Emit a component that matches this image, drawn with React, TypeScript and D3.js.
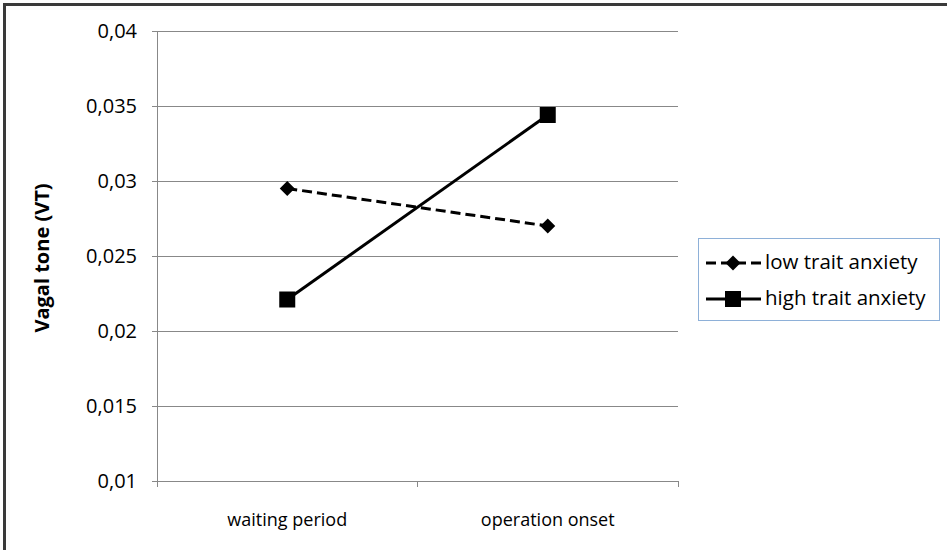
import React from "react";
import * as d3 from "d3";

const categories = ["waiting period", "operation onset"];
const lowTrait = [0.0295, 0.027];
const highTrait = [0.0221, 0.0344];
const yTicks = [0.01, 0.015, 0.02, 0.025, 0.03, 0.035, 0.04];
const seriesNames = ["low trait anxiety", "high trait anxiety"];

const W = 947, H = 550;
const left = 157, right = 678, top = 31, bottom = 481;
const font = "'Open Sans', sans-serif";

export default function App() {
  const x = d3.scaleBand().domain(categories).range([left, right]);
  const y = d3.scaleLinear().domain([0.01, 0.04]).range([bottom, top]);
  const cx = (c: string) => (x(c) as number) + x.bandwidth() / 2;
  const line = d3.line<number>().x((_, i) => cx(categories[i])).y((v) => y(v));
  const fmt = (v: number) => String(+v.toFixed(3)).replace(".", ",");
  const diamond = "M0,-7.5L7.5,0L0,7.5L-7.5,0Z";
  const legY = [263, 299];

  return (
    <svg width={W} height={H} style={{ position: "absolute", left: 0, top: 0, background: "#fff" }}>
      <rect x={0} y={0} width={W} height={H} fill="#fff" />
      <rect x={4.5} y={4.5} width={W + 10} height={H + 10} fill="none" stroke="#3a3a3a" strokeWidth={3} />
      {yTicks.map((t) => (
        <g key={t}>
          <line x1={left - 5} x2={right} y1={y(t)} y2={y(t)} stroke="#888" strokeWidth={1} shapeRendering="crispEdges" />
          <text x={137} y={y(t) + 7} textAnchor="end" fontFamily={font} fontSize={20} fill="#000">{fmt(t)}</text>
        </g>
      ))}
      <line x1={left} x2={left} y1={top} y2={bottom} stroke="#888" shapeRendering="crispEdges" />
      {[left, left + x.bandwidth(), right].map((tx, i) => (
        <line key={i} x1={tx} x2={tx} y1={bottom} y2={bottom + 6} stroke="#888" shapeRendering="crispEdges" />
      ))}
      {categories.map((c) => (
        <text key={c} x={cx(c)} y={526} textAnchor="middle" fontFamily={font} fontSize={18} fill="#000">{c}</text>
      ))}
      <text transform={`translate(49,${(top + bottom) / 2 + 2}) rotate(-90)`} textAnchor="middle" fontFamily={font} fontSize={20} fontWeight="bold" fill="#000">Vagal tone (VT)</text>

      <path d={line(lowTrait) || ""} fill="none" stroke="#000" strokeWidth={3} strokeDasharray="10,5" />
      <path d={line(highTrait) || ""} fill="none" stroke="#000" strokeWidth={3} />
      {lowTrait.map((v, i) => (
        <path key={i} d={diamond} transform={`translate(${cx(categories[i])},${y(v)})`} fill="#000" />
      ))}
      {highTrait.map((v, i) => (
        <rect key={i} x={cx(categories[i]) - 8} y={y(v) - 8} width={16} height={16} fill="#000" />
      ))}

      <rect x={698.5} y={238.5} width={241} height={82} fill="#fff" stroke="#8eb0d8" strokeWidth={1} />
      <line x1={706} x2={761} y1={legY[0]} y2={legY[0]} stroke="#000" strokeWidth={3} strokeDasharray="10,5" />
      <path d={diamond} transform={`translate(733,${legY[0]})`} fill="#000" />
      <line x1={706} x2={761} y1={legY[1]} y2={legY[1]} stroke="#000" strokeWidth={3} />
      <rect x={725} y={legY[1] - 8} width={16} height={16} fill="#000" />
      {seriesNames.map((s, i) => (
        <text key={s} x={765} y={legY[i] + 6} fontFamily={font} fontSize={20.5} fill="#000">{s}</text>
      ))}
    </svg>
  );
}
